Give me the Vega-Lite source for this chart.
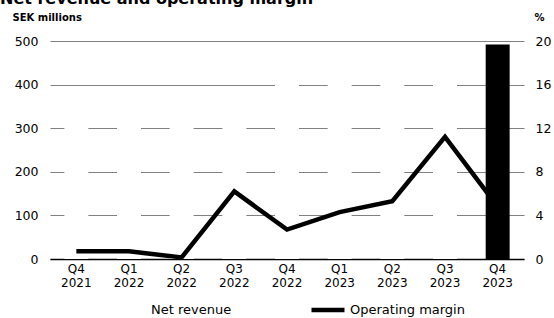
{
  "$schema": "https://vega.github.io/schema/vega-lite/v6.json",
  "width": 474,
  "height": 218,
  "autosize": {"type": "none"},
  "padding": {"left": 50, "top": 41, "right": 30, "bottom": 59},
  "title": {"text": "Net revenue and operating margin", "anchor": "start", "frame": "group", "font": "DejaVu Sans", "fontSize": 16, "fontWeight": "bold", "color": "black", "dx": -50, "offset": 5},
  "config": {"view": {"stroke": null}, "font": "DejaVu Sans"},
  "data": {"values": [
    {"q": "Q4 2021", "revenue": 330, "margin": 0.7},
    {"q": "Q1 2022", "revenue": 340, "margin": 0.7},
    {"q": "Q2 2022", "revenue": 350, "margin": 0.15},
    {"q": "Q3 2022", "revenue": 370, "margin": 6.2},
    {"q": "Q4 2022", "revenue": 410, "margin": 2.7},
    {"q": "Q1 2023", "revenue": 430, "margin": 4.3},
    {"q": "Q2 2023", "revenue": 450, "margin": 5.3},
    {"q": "Q3 2023", "revenue": 470, "margin": 11.2},
    {"q": "Q4 2023", "revenue": 492, "margin": 4.8}
  ]},
  "encoding": {
    "x": {"field": "q", "type": "ordinal", "sort": null,
      "scale": {"paddingInner": 0.545, "paddingOuter": 0.2725},
      "axis": {"title": null, "labelAngle": 0, "labelExpr": "split(datum.label, ' ')", "labelFontSize": 12, "labelColor": "black", "labelPadding": 4, "labelLineHeight": 14, "labelBaseline": "top", "ticks": false, "domainColor": "black", "domainWidth": 1.5}}
  },
  "layer": [
    {"mark": {"type": "bar"},
     "encoding": {
       "y": {"field": "revenue", "type": "quantitative", "scale": {"domain": [0, 500]},
         "axis": {"values": [0, 100, 200, 300, 400, 500], "title": "SEK millions", "titleAngle": 0, "titleAlign": "left", "titleBaseline": "middle", "titleX": -38, "titleY": -24, "titleFontSize": 10, "titleFontWeight": "bold", "titleColor": "black", "labelFontSize": 12.5, "labelColor": "black", "labelPadding": 12, "ticks": false, "domain": false, "grid": true, "gridColor": "#808080", "gridWidth": 1}},
       "color": {"condition": {"test": "datum.q === 'Q4 2023'", "value": "black"}, "value": "white"}
     }},
    {"mark": {"type": "line", "strokeWidth": 4.5, "color": "black"},
     "encoding": {
       "y": {"field": "margin", "type": "quantitative", "scale": {"domain": [0, 20]},
         "axis": {"orient": "right", "values": [0, 4, 8, 12, 16, 20], "title": "%", "titleAngle": 0, "titleAlign": "left", "titleBaseline": "middle", "titleX": 10, "titleY": -24, "titleFontSize": 10, "titleFontWeight": "bold", "titleColor": "black", "labelFontSize": 12.5, "labelColor": "black", "labelPadding": 11, "ticks": false, "domain": false, "grid": false}},
       "stroke": {"datum": "Operating margin", "type": "nominal",
         "scale": {"domain": ["Net revenue", "Operating margin"], "range": ["white", "black"]},
         "legend": {"title": null, "orient": "none", "legendX": 60, "legendY": 250, "direction": "horizontal", "symbolType": "stroke", "symbolSize": 1089, "symbolStrokeWidth": 4.5, "labelFontSize": 13, "labelColor": "black", "labelOffset": 3, "columnPadding": 70}}
     }}
  ],
  "resolve": {"scale": {"y": "independent"}}
}
